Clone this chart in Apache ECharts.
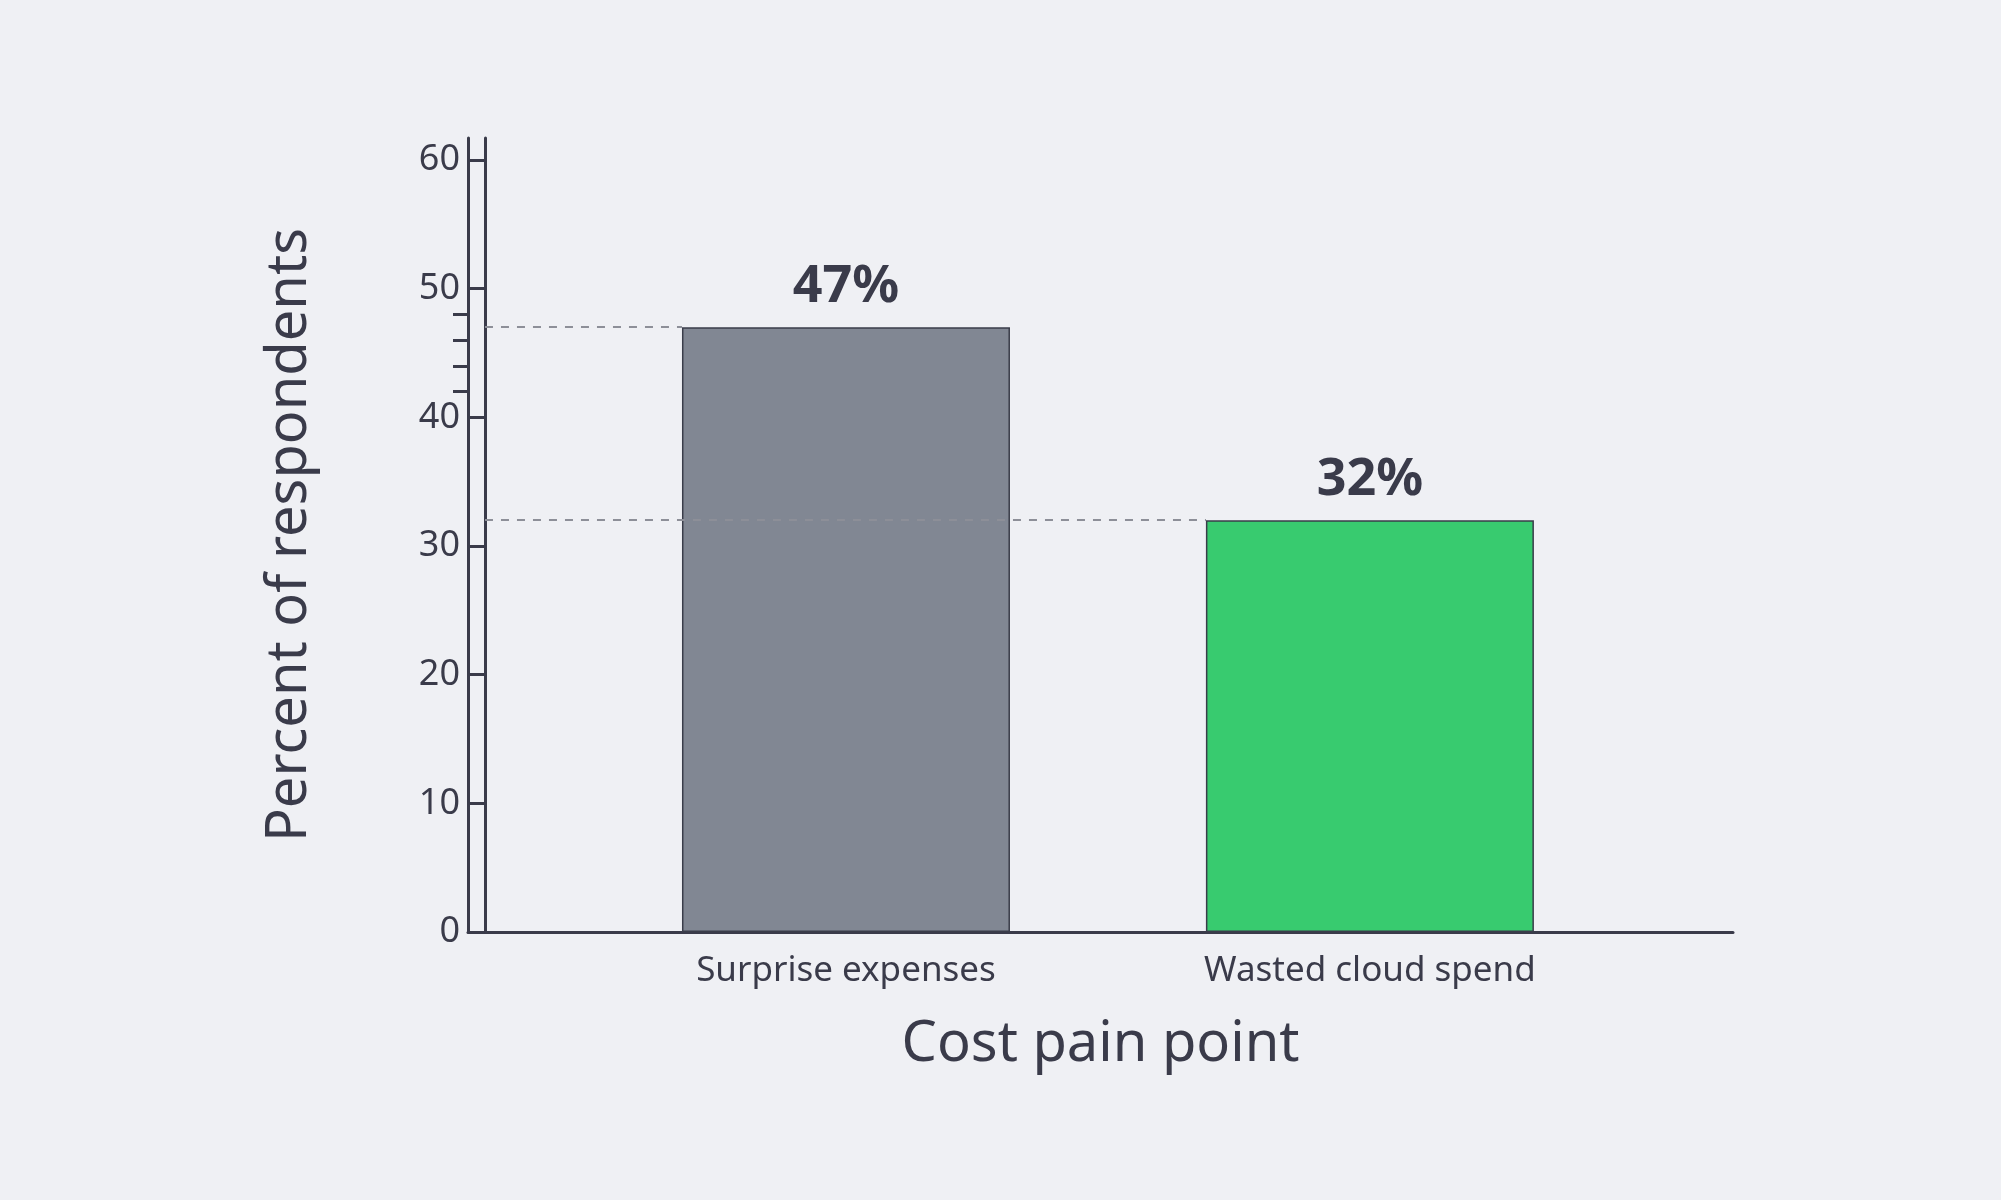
<!DOCTYPE html>
<html>
<head>
<meta charset="utf-8">
<script src="https://cdn.jsdelivr.net/npm/echarts@6/dist/echarts.min.js"></script>
<style>html,body{margin:0;padding:0;background:#eff0f4;}#chart{width:2001px;height:1200px;}</style>
</head>
<body>
<div id="chart"></div>
<script>
// data
const categories = ['Surprise expenses', 'Wasted cloud spend'];
const values = [47, 32];
const barColors = ['#818793', '#38cb6f'];
const barX = [0.689, 1.689];
const minorTicks = [42, 44, 46, 48];

const ink = '#3a3b4a';
const font = 'Noto Sans';
const halfBar = 0.313;

const chart = echarts.init(document.getElementById('chart'));

const axisLine = {show: true, onZero: true, lineStyle: {color: ink, width: 3}};

chart.setOption({
  backgroundColor: '#eff0f4',
  textStyle: {fontFamily: font},
  grid: {left: 468, right: 268, top: 138, bottom: 268},
  xAxis: {
    type: 'value', min: -0.0324, max: 2.382,
    splitLine: {show: false},
    axisLine: axisLine,
    axisTick: {show: false},
    axisLabel: {
      customValues: barX, color: ink, fontSize: 35, margin: 22, fontFamily: font,
      formatter: v => categories[barX.indexOf(v)] || ''
    },
    name: 'Cost pain point', nameLocation: 'middle', nameGap: 85,
    nameTextStyle: {color: ink, fontSize: 56, fontFamily: font}
  },
  yAxis: [{
    type: 'value', min: 0, max: 61.7, interval: 10,
    splitLine: {show: false},
    axisLine: axisLine,
    axisTick: {show: true, length: 15, lineStyle: {color: ink, width: 3}},
    axisLabel: {color: ink, fontSize: 36, margin: 8, fontFamily: font, showMaxLabel: false,
      formatter: v => (v % 10 === 0 && v <= 60) ? String(v) : ''},
    name: 'Percent of respondents', nameLocation: 'middle', nameGap: 150,
    nameTextStyle: {color: ink, fontSize: 56, fontFamily: font}
  }, {
    type: 'value', min: 0, max: 61.7, position: 'left',
    splitLine: {show: false},
    axisLine: axisLine,
    axisTick: {show: true, length: 15, customValues: minorTicks, lineStyle: {color: ink, width: 3}},
    axisLabel: {show: false}
  }],
  series: [{
    type: 'line', data: [], z: 1,
    markLine: {
      silent: true, symbol: 'none', label: {show: false},
      lineStyle: {type: [8, 8], color: '#8d8f98', width: 2},
      data: values.map((v, i) => [{coord: [0, v]}, {coord: [barX[i] - halfBar, v]}])
    }
  }, {
    type: 'bar', z: 3,
    barWidth: 328,
    data: values.map((v, i) => ({
      value: [barX[i], v],
      itemStyle: {color: barColors[i], borderColor: '#3a3d4a', borderWidth: 1.5}
    })),
    label: {
      show: true, position: 'top', distance: 14,
      formatter: p => p.value[1] + '%',
      color: ink, fontSize: 52, fontWeight: 'bold', fontFamily: font
    }
  }]
});
</script>
</body>
</html>
